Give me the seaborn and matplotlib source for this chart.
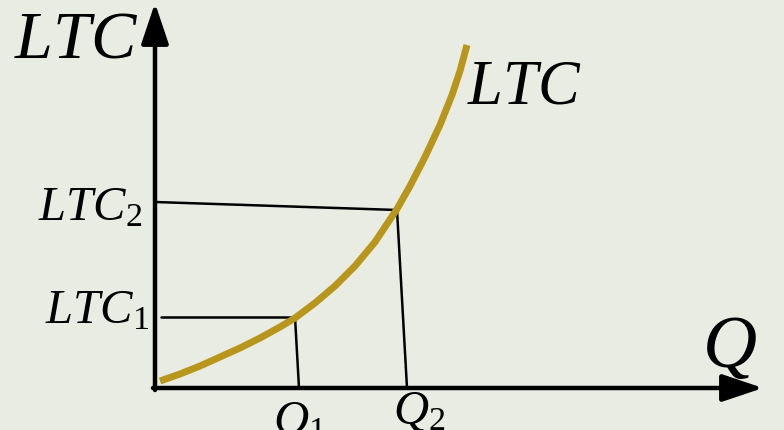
import matplotlib
matplotlib.use("Agg")
import matplotlib.pyplot as plt
import seaborn as sns

# Curve LTC (output Q vs long-run total cost)
q_pts = [5, 25, 45, 65, 85, 105, 125, 140, 160, 180, 200, 220, 242,
         255, 270, 285, 297, 305, 312]
ltc_pts = [7, 14, 22, 31, 40, 50, 61, 70, 85, 102, 122, 146, 179,
           202, 231, 263, 293, 317, 343]

# Guide lines: (top on curve, foot on axis)
q1, q1_foot, ltc1 = 140, 144, 71
q2, q2_foot, ltc2, ltc2_start = 242, 252, 178, 186
q_axis_end, ltc_axis_end = 608, 385

bg = "#E8ECE2"
gold = "#B8961C"

sns.set_theme(style="white", rc={"axes.facecolor": bg, "figure.facecolor": bg,
                                 "text.color": "black"})
plt.rcParams["mathtext.fontset"] = "custom"
plt.rcParams["mathtext.it"] = "Liberation Serif:italic"
plt.rcParams["mathtext.rm"] = "Liberation Serif"
plt.rcParams["font.family"] = ["Liberation Serif", "DejaVu Serif"]

fig = plt.figure(figsize=(7.84, 4.31), dpi=100)
ax = fig.add_axes([0, 0, 1, 1])
ax.set_xlim(-155, 629)
ax.set_ylim(-42, 389)
ax.axis("off")

# guide lines
guide = dict(color="black", lw=1.8)
ax.plot([6, q1], [ltc1, ltc1], **guide)
ax.plot([q1, q1_foot], [ltc1, 0], **guide)
ax.plot([0, q2], [ltc2_start, ltc2], **guide)
ax.plot([q2, q2_foot], [ltc2, 0], **guide)

# LTC curve
sns.lineplot(x=q_pts, y=ltc_pts, sort=False, color=gold, lw=5,
             solid_capstyle="butt", solid_joinstyle="round", ax=ax, zorder=3)

# axes with arrows
arrow = dict(arrowstyle="-|>,head_length=1.25,head_width=0.42", color="black",
             lw=3.2, mutation_scale=20, shrinkA=0, shrinkB=0)
ax.annotate("", xy=(0, ltc_axis_end), xytext=(0, -2), arrowprops=arrow, zorder=4)
ax.annotate("", xy=(q_axis_end, 0), xytext=(-2, 0), arrowprops=arrow, zorder=4)

# labels
ax.text(-141, 332, "$LTC$", fontsize=49, ha="left", va="baseline")
ax.text(312, 286, "$LTC$", fontsize=45, ha="left", va="baseline")
ax.text(547, 22, "$Q$", fontsize=54, ha="left", va="baseline")
ax.text(-117, 169, r"$LTC_\mathrm{2}$", fontsize=35, ha="left", va="baseline")
ax.text(-110, 66, r"$LTC_\mathrm{1}$", fontsize=35, ha="left", va="baseline")
ax.text(118, -45, r"$Q_\mathrm{1}$", fontsize=35, ha="left", va="baseline")
ax.text(238, -35, r"$Q_\mathrm{2}$", fontsize=35, ha="left", va="baseline")

fig.savefig("out.png", dpi=100, facecolor=bg)
